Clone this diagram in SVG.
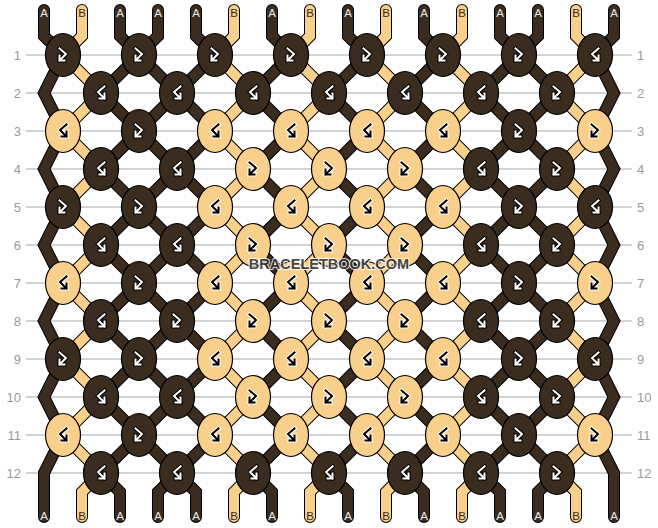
<svg xmlns="http://www.w3.org/2000/svg" xmlns:xlink="http://www.w3.org/1999/xlink" width="658" height="528" viewBox="0 0 658 528">
<style>
.grid line{stroke:#c4c4c4;stroke-width:1.3}
.rowlab{font-family:"Liberation Sans",Arial,sans-serif;font-size:13px;fill:#9a9a9a}
.so{fill:none;stroke:#000;stroke-width:12;stroke-linejoin:miter;stroke-linecap:round}
.sd{fill:none;stroke:#3a2c1f;stroke-width:10;stroke-linejoin:miter;stroke-linecap:round}
.sl{fill:none;stroke:#f9d08b;stroke-width:10;stroke-linejoin:miter;stroke-linecap:round}
ellipse{stroke:#000;stroke-width:1.2}
.d{fill:#3a2c1f}
.l{fill:#f9d08b}
.gk{fill:none;stroke:#000;stroke-width:4;stroke-linecap:square}
.gw{fill:none;stroke:#fff;stroke-width:2;stroke-linecap:square}
.lab{font-family:"Liberation Sans",Arial,sans-serif;font-size:11.5px;text-anchor:middle}
.la{fill:#e6e6e6}
.lb{fill:#3a2c1f}
.wm{font-family:"Liberation Sans",Arial,sans-serif;font-size:14.5px;font-weight:bold;text-anchor:middle;fill:#333;stroke:#fff;stroke-width:2;paint-order:stroke;stroke-linejoin:round;opacity:0.88}
</style>
<defs>
<path id="pfb" d="M-3.5,-6.5 L3,-1 L-3.5,5.5 M-3.5,0.5 L-3.5,5.5 L1.5,5.5"/>
<path id="pbf" d="M3.5,-6.5 L-3,-1 L3.5,5.5 M3.5,0.5 L3.5,5.5 L-1.5,5.5"/>
<g id="fbd"><use href="#pfb" class="gk"/><use href="#pfb" class="gw"/></g>
<g id="bfd"><use href="#pbf" class="gk"/><use href="#pbf" class="gw"/></g>
<g id="fbl"><use href="#pfb" class="gw" style="stroke-width:4"/><use href="#pfb" class="gk" style="stroke-width:2"/></g>
<g id="bfl"><use href="#pbf" class="gw" style="stroke-width:4"/><use href="#pbf" class="gk" style="stroke-width:2"/></g>
<path id="s0" d="M44,10 V36 l19,19 l-19,38 l19,38 l-19,38 l19,38 l-19,38 l19,38 l-19,38 l19,38 l-19,38 l19,38 l-19,38 V517"/>
<path id="s1" d="M82,10 V36 l-19,19 l38,38 l-38,38 l38,38 l-38,38 l38,38 l-38,38 l38,38 l-38,38 l38,38 l-38,38 l38,38 l-19,19 V517"/>
<path id="s2" d="M120,10 V36 l19,19 l-38,38 l38,38 l-38,38 l38,38 l-38,38 l38,38 l-38,38 l38,38 l-38,38 l38,38 l-38,38 l19,19 V517"/>
<path id="s3" d="M158,10 V36 l-19,19 l38,38 l-38,38 l38,38 l-38,38 l38,38 l-38,38 l38,38 l-38,38 l38,38 l-38,38 l38,38 l-19,19 V517"/>
<path id="s4" d="M196,10 V36 l19,19 l-38,38 l38,38 l-38,38 l38,38 l-38,38 l38,38 l-38,38 l38,38 l-38,38 l38,38 l-38,38 l19,19 V517"/>
<path id="s5" d="M234,10 V36 l-19,19 l38,38 l-38,38 l38,38 l-38,38 l38,38 l-38,38 l38,38 l-38,38 l38,38 l-38,38 l38,38 l-19,19 V517"/>
<path id="s6" d="M272,10 V36 l19,19 l-38,38 l38,38 l-38,38 l38,38 l-38,38 l38,38 l-38,38 l38,38 l-38,38 l38,38 l-38,38 l19,19 V517"/>
<path id="s7" d="M310,10 V36 l-19,19 l38,38 l-38,38 l38,38 l-38,38 l38,38 l-38,38 l38,38 l-38,38 l38,38 l-38,38 l38,38 l-19,19 V517"/>
<path id="s8" d="M348,10 V36 l19,19 l-38,38 l38,38 l-38,38 l38,38 l-38,38 l38,38 l-38,38 l38,38 l-38,38 l38,38 l-38,38 l19,19 V517"/>
<path id="s9" d="M386,10 V36 l-19,19 l38,38 l-38,38 l38,38 l-38,38 l38,38 l-38,38 l38,38 l-38,38 l38,38 l-38,38 l38,38 l-19,19 V517"/>
<path id="s10" d="M424,10 V36 l19,19 l-38,38 l38,38 l-38,38 l38,38 l-38,38 l38,38 l-38,38 l38,38 l-38,38 l38,38 l-38,38 l19,19 V517"/>
<path id="s11" d="M462,10 V36 l-19,19 l38,38 l-38,38 l38,38 l-38,38 l38,38 l-38,38 l38,38 l-38,38 l38,38 l-38,38 l38,38 l-19,19 V517"/>
<path id="s12" d="M500,10 V36 l19,19 l-38,38 l38,38 l-38,38 l38,38 l-38,38 l38,38 l-38,38 l38,38 l-38,38 l38,38 l-38,38 l19,19 V517"/>
<path id="s13" d="M538,10 V36 l-19,19 l38,38 l-38,38 l38,38 l-38,38 l38,38 l-38,38 l38,38 l-38,38 l38,38 l-38,38 l38,38 l-19,19 V517"/>
<path id="s14" d="M576,10 V36 l19,19 l-38,38 l38,38 l-38,38 l38,38 l-38,38 l38,38 l-38,38 l38,38 l-38,38 l38,38 l-38,38 l19,19 V517"/>
<path id="s15" d="M614,10 V36 l-19,19 l19,38 l-19,38 l19,38 l-19,38 l19,38 l-19,38 l19,38 l-19,38 l19,38 l-19,38 l19,38 V517"/>
</defs>
<rect width="658" height="528" fill="#fff"/>
<g class="grid">
<line x1="26" y1="55" x2="632" y2="55"/><line x1="26" y1="93" x2="632" y2="93"/><line x1="26" y1="131" x2="632" y2="131"/><line x1="26" y1="169" x2="632" y2="169"/><line x1="26" y1="207" x2="632" y2="207"/><line x1="26" y1="245" x2="632" y2="245"/><line x1="26" y1="283" x2="632" y2="283"/><line x1="26" y1="321" x2="632" y2="321"/><line x1="26" y1="359" x2="632" y2="359"/><line x1="26" y1="397" x2="632" y2="397"/><line x1="26" y1="435" x2="632" y2="435"/><line x1="26" y1="473" x2="632" y2="473"/>
</g>
<g class="rowlab" text-anchor="end">
<text x="21" y="60">1</text><text x="21" y="98">2</text><text x="21" y="136">3</text><text x="21" y="174">4</text><text x="21" y="212">5</text><text x="21" y="250">6</text><text x="21" y="288">7</text><text x="21" y="326">8</text><text x="21" y="364">9</text><text x="21" y="402">10</text><text x="21" y="440">11</text><text x="21" y="478">12</text>
</g>
<g class="rowlab" text-anchor="start">
<text x="637" y="60">1</text><text x="637" y="98">2</text><text x="637" y="136">3</text><text x="637" y="174">4</text><text x="637" y="212">5</text><text x="637" y="250">6</text><text x="637" y="288">7</text><text x="637" y="326">8</text><text x="637" y="364">9</text><text x="637" y="402">10</text><text x="637" y="440">11</text><text x="637" y="478">12</text>
</g>
<g id="connectors">
<use href="#s0" class="so"/><use href="#s0" class="sd"/>
<use href="#s1" class="so"/><use href="#s1" class="sl"/>
<use href="#s2" class="so"/><use href="#s2" class="sd"/>
<use href="#s3" class="so"/><use href="#s3" class="sd"/>
<use href="#s4" class="so"/><use href="#s4" class="sd"/>
<use href="#s5" class="so"/><use href="#s5" class="sl"/>
<use href="#s6" class="so"/><use href="#s6" class="sd"/>
<use href="#s7" class="so"/><use href="#s7" class="sl"/>
<use href="#s8" class="so"/><use href="#s8" class="sd"/>
<use href="#s9" class="so"/><use href="#s9" class="sl"/>
<use href="#s10" class="so"/><use href="#s10" class="sd"/>
<use href="#s11" class="so"/><use href="#s11" class="sl"/>
<use href="#s12" class="so"/><use href="#s12" class="sd"/>
<use href="#s13" class="so"/><use href="#s13" class="sd"/>
<use href="#s14" class="so"/><use href="#s14" class="sl"/>
<use href="#s15" class="so"/><use href="#s15" class="sd"/>
</g>
<g id="knots">
<g id="k1-1"><ellipse cx="63" cy="55" rx="17.5" ry="21.5" class="d"/><use href="#fbd" x="63" y="55"/></g>
<g id="k1-2"><ellipse cx="139" cy="55" rx="17.5" ry="21.5" class="d"/><use href="#fbd" x="139" y="55"/></g>
<g id="k1-3"><ellipse cx="215" cy="55" rx="17.5" ry="21.5" class="d"/><use href="#fbd" x="215" y="55"/></g>
<g id="k1-4"><ellipse cx="291" cy="55" rx="17.5" ry="21.5" class="d"/><use href="#fbd" x="291" y="55"/></g>
<g id="k1-5"><ellipse cx="367" cy="55" rx="17.5" ry="21.5" class="d"/><use href="#fbd" x="367" y="55"/></g>
<g id="k1-6"><ellipse cx="443" cy="55" rx="17.5" ry="21.5" class="d"/><use href="#fbd" x="443" y="55"/></g>
<g id="k1-7"><ellipse cx="519" cy="55" rx="17.5" ry="21.5" class="d"/><use href="#fbd" x="519" y="55"/></g>
<g id="k1-8"><ellipse cx="595" cy="55" rx="17.5" ry="21.5" class="d"/><use href="#bfd" x="595" y="55"/></g>

<g id="k2-1"><ellipse cx="101" cy="93" rx="17.5" ry="21.5" class="d"/><use href="#bfd" x="101" y="93"/></g>
<g id="k2-2"><ellipse cx="177" cy="93" rx="17.5" ry="21.5" class="d"/><use href="#bfd" x="177" y="93"/></g>
<g id="k2-3"><ellipse cx="253" cy="93" rx="17.5" ry="21.5" class="d"/><use href="#bfd" x="253" y="93"/></g>
<g id="k2-4"><ellipse cx="329" cy="93" rx="17.5" ry="21.5" class="d"/><use href="#bfd" x="329" y="93"/></g>
<g id="k2-5"><ellipse cx="405" cy="93" rx="17.5" ry="21.5" class="d"/><use href="#bfd" x="405" y="93"/></g>
<g id="k2-6"><ellipse cx="481" cy="93" rx="17.5" ry="21.5" class="d"/><use href="#bfd" x="481" y="93"/></g>
<g id="k2-7"><ellipse cx="557" cy="93" rx="17.5" ry="21.5" class="d"/><use href="#fbd" x="557" y="93"/></g>

<g id="k3-1"><ellipse cx="63" cy="131" rx="17.5" ry="21.5" class="l"/><use href="#bfl" x="63" y="131"/></g>
<g id="k3-2"><ellipse cx="139" cy="131" rx="17.5" ry="21.5" class="d"/><use href="#fbd" x="139" y="131"/></g>
<g id="k3-3"><ellipse cx="215" cy="131" rx="17.5" ry="21.5" class="l"/><use href="#bfl" x="215" y="131"/></g>
<g id="k3-4"><ellipse cx="291" cy="131" rx="17.5" ry="21.5" class="l"/><use href="#bfl" x="291" y="131"/></g>
<g id="k3-5"><ellipse cx="367" cy="131" rx="17.5" ry="21.5" class="l"/><use href="#bfl" x="367" y="131"/></g>
<g id="k3-6"><ellipse cx="443" cy="131" rx="17.5" ry="21.5" class="l"/><use href="#bfl" x="443" y="131"/></g>
<g id="k3-7"><ellipse cx="519" cy="131" rx="17.5" ry="21.5" class="d"/><use href="#fbd" x="519" y="131"/></g>
<g id="k3-8"><ellipse cx="595" cy="131" rx="17.5" ry="21.5" class="l"/><use href="#fbl" x="595" y="131"/></g>

<g id="k4-1"><ellipse cx="101" cy="169" rx="17.5" ry="21.5" class="d"/><use href="#bfd" x="101" y="169"/></g>
<g id="k4-2"><ellipse cx="177" cy="169" rx="17.5" ry="21.5" class="d"/><use href="#bfd" x="177" y="169"/></g>
<g id="k4-3"><ellipse cx="253" cy="169" rx="17.5" ry="21.5" class="l"/><use href="#fbl" x="253" y="169"/></g>
<g id="k4-4"><ellipse cx="329" cy="169" rx="17.5" ry="21.5" class="l"/><use href="#fbl" x="329" y="169"/></g>
<g id="k4-5"><ellipse cx="405" cy="169" rx="17.5" ry="21.5" class="l"/><use href="#fbl" x="405" y="169"/></g>
<g id="k4-6"><ellipse cx="481" cy="169" rx="17.5" ry="21.5" class="d"/><use href="#bfd" x="481" y="169"/></g>
<g id="k4-7"><ellipse cx="557" cy="169" rx="17.5" ry="21.5" class="d"/><use href="#fbd" x="557" y="169"/></g>

<g id="k5-1"><ellipse cx="63" cy="207" rx="17.5" ry="21.5" class="d"/><use href="#fbd" x="63" y="207"/></g>
<g id="k5-2"><ellipse cx="139" cy="207" rx="17.5" ry="21.5" class="d"/><use href="#fbd" x="139" y="207"/></g>
<g id="k5-3"><ellipse cx="215" cy="207" rx="17.5" ry="21.5" class="l"/><use href="#bfl" x="215" y="207"/></g>
<g id="k5-4"><ellipse cx="291" cy="207" rx="17.5" ry="21.5" class="l"/><use href="#bfl" x="291" y="207"/></g>
<g id="k5-5"><ellipse cx="367" cy="207" rx="17.5" ry="21.5" class="l"/><use href="#bfl" x="367" y="207"/></g>
<g id="k5-6"><ellipse cx="443" cy="207" rx="17.5" ry="21.5" class="l"/><use href="#bfl" x="443" y="207"/></g>
<g id="k5-7"><ellipse cx="519" cy="207" rx="17.5" ry="21.5" class="d"/><use href="#fbd" x="519" y="207"/></g>
<g id="k5-8"><ellipse cx="595" cy="207" rx="17.5" ry="21.5" class="d"/><use href="#bfd" x="595" y="207"/></g>

<g id="k6-1"><ellipse cx="101" cy="245" rx="17.5" ry="21.5" class="d"/><use href="#bfd" x="101" y="245"/></g>
<g id="k6-2"><ellipse cx="177" cy="245" rx="17.5" ry="21.5" class="d"/><use href="#bfd" x="177" y="245"/></g>
<g id="k6-3"><ellipse cx="253" cy="245" rx="17.5" ry="21.5" class="l"/><use href="#fbl" x="253" y="245"/></g>
<g id="k6-4"><ellipse cx="329" cy="245" rx="17.5" ry="21.5" class="l"/><use href="#fbl" x="329" y="245"/></g>
<g id="k6-5"><ellipse cx="405" cy="245" rx="17.5" ry="21.5" class="l"/><use href="#fbl" x="405" y="245"/></g>
<g id="k6-6"><ellipse cx="481" cy="245" rx="17.5" ry="21.5" class="d"/><use href="#bfd" x="481" y="245"/></g>
<g id="k6-7"><ellipse cx="557" cy="245" rx="17.5" ry="21.5" class="d"/><use href="#fbd" x="557" y="245"/></g>

<g id="k7-1"><ellipse cx="63" cy="283" rx="17.5" ry="21.5" class="l"/><use href="#bfl" x="63" y="283"/></g>
<g id="k7-2"><ellipse cx="139" cy="283" rx="17.5" ry="21.5" class="d"/><use href="#fbd" x="139" y="283"/></g>
<g id="k7-3"><ellipse cx="215" cy="283" rx="17.5" ry="21.5" class="l"/><use href="#bfl" x="215" y="283"/></g>
<g id="k7-4"><ellipse cx="291" cy="283" rx="17.5" ry="21.5" class="l"/><use href="#bfl" x="291" y="283"/></g>
<g id="k7-5"><ellipse cx="367" cy="283" rx="17.5" ry="21.5" class="l"/><use href="#bfl" x="367" y="283"/></g>
<g id="k7-6"><ellipse cx="443" cy="283" rx="17.5" ry="21.5" class="l"/><use href="#bfl" x="443" y="283"/></g>
<g id="k7-7"><ellipse cx="519" cy="283" rx="17.5" ry="21.5" class="d"/><use href="#fbd" x="519" y="283"/></g>
<g id="k7-8"><ellipse cx="595" cy="283" rx="17.5" ry="21.5" class="l"/><use href="#fbl" x="595" y="283"/></g>

<g id="k8-1"><ellipse cx="101" cy="321" rx="17.5" ry="21.5" class="d"/><use href="#bfd" x="101" y="321"/></g>
<g id="k8-2"><ellipse cx="177" cy="321" rx="17.5" ry="21.5" class="d"/><use href="#fbd" x="177" y="321"/></g>
<g id="k8-3"><ellipse cx="253" cy="321" rx="17.5" ry="21.5" class="l"/><use href="#fbl" x="253" y="321"/></g>
<g id="k8-4"><ellipse cx="329" cy="321" rx="17.5" ry="21.5" class="l"/><use href="#fbl" x="329" y="321"/></g>
<g id="k8-5"><ellipse cx="405" cy="321" rx="17.5" ry="21.5" class="l"/><use href="#fbl" x="405" y="321"/></g>
<g id="k8-6"><ellipse cx="481" cy="321" rx="17.5" ry="21.5" class="d"/><use href="#bfd" x="481" y="321"/></g>
<g id="k8-7"><ellipse cx="557" cy="321" rx="17.5" ry="21.5" class="d"/><use href="#fbd" x="557" y="321"/></g>

<g id="k9-1"><ellipse cx="63" cy="359" rx="17.5" ry="21.5" class="d"/><use href="#fbd" x="63" y="359"/></g>
<g id="k9-2"><ellipse cx="139" cy="359" rx="17.5" ry="21.5" class="d"/><use href="#fbd" x="139" y="359"/></g>
<g id="k9-3"><ellipse cx="215" cy="359" rx="17.5" ry="21.5" class="l"/><use href="#bfl" x="215" y="359"/></g>
<g id="k9-4"><ellipse cx="291" cy="359" rx="17.5" ry="21.5" class="l"/><use href="#bfl" x="291" y="359"/></g>
<g id="k9-5"><ellipse cx="367" cy="359" rx="17.5" ry="21.5" class="l"/><use href="#bfl" x="367" y="359"/></g>
<g id="k9-6"><ellipse cx="443" cy="359" rx="17.5" ry="21.5" class="l"/><use href="#bfl" x="443" y="359"/></g>
<g id="k9-7"><ellipse cx="519" cy="359" rx="17.5" ry="21.5" class="d"/><use href="#fbd" x="519" y="359"/></g>
<g id="k9-8"><ellipse cx="595" cy="359" rx="17.5" ry="21.5" class="d"/><use href="#bfd" x="595" y="359"/></g>

<g id="k10-1"><ellipse cx="101" cy="397" rx="17.5" ry="21.5" class="d"/><use href="#bfd" x="101" y="397"/></g>
<g id="k10-2"><ellipse cx="177" cy="397" rx="17.5" ry="21.5" class="d"/><use href="#bfd" x="177" y="397"/></g>
<g id="k10-3"><ellipse cx="253" cy="397" rx="17.5" ry="21.5" class="l"/><use href="#fbl" x="253" y="397"/></g>
<g id="k10-4"><ellipse cx="329" cy="397" rx="17.5" ry="21.5" class="l"/><use href="#fbl" x="329" y="397"/></g>
<g id="k10-5"><ellipse cx="405" cy="397" rx="17.5" ry="21.5" class="l"/><use href="#fbl" x="405" y="397"/></g>
<g id="k10-6"><ellipse cx="481" cy="397" rx="17.5" ry="21.5" class="d"/><use href="#bfd" x="481" y="397"/></g>
<g id="k10-7"><ellipse cx="557" cy="397" rx="17.5" ry="21.5" class="d"/><use href="#fbd" x="557" y="397"/></g>

<g id="k11-1"><ellipse cx="63" cy="435" rx="17.5" ry="21.5" class="l"/><use href="#bfl" x="63" y="435"/></g>
<g id="k11-2"><ellipse cx="139" cy="435" rx="17.5" ry="21.5" class="d"/><use href="#fbd" x="139" y="435"/></g>
<g id="k11-3"><ellipse cx="215" cy="435" rx="17.5" ry="21.5" class="l"/><use href="#bfl" x="215" y="435"/></g>
<g id="k11-4"><ellipse cx="291" cy="435" rx="17.5" ry="21.5" class="l"/><use href="#bfl" x="291" y="435"/></g>
<g id="k11-5"><ellipse cx="367" cy="435" rx="17.5" ry="21.5" class="l"/><use href="#bfl" x="367" y="435"/></g>
<g id="k11-6"><ellipse cx="443" cy="435" rx="17.5" ry="21.5" class="l"/><use href="#bfl" x="443" y="435"/></g>
<g id="k11-7"><ellipse cx="519" cy="435" rx="17.5" ry="21.5" class="d"/><use href="#fbd" x="519" y="435"/></g>
<g id="k11-8"><ellipse cx="595" cy="435" rx="17.5" ry="21.5" class="l"/><use href="#fbl" x="595" y="435"/></g>

<g id="k12-1"><ellipse cx="101" cy="473" rx="17.5" ry="21.5" class="d"/><use href="#bfd" x="101" y="473"/></g>
<g id="k12-2"><ellipse cx="177" cy="473" rx="17.5" ry="21.5" class="d"/><use href="#bfd" x="177" y="473"/></g>
<g id="k12-3"><ellipse cx="253" cy="473" rx="17.5" ry="21.5" class="d"/><use href="#bfd" x="253" y="473"/></g>
<g id="k12-4"><ellipse cx="329" cy="473" rx="17.5" ry="21.5" class="d"/><use href="#bfd" x="329" y="473"/></g>
<g id="k12-5"><ellipse cx="405" cy="473" rx="17.5" ry="21.5" class="d"/><use href="#bfd" x="405" y="473"/></g>
<g id="k12-6"><ellipse cx="481" cy="473" rx="17.5" ry="21.5" class="d"/><use href="#bfd" x="481" y="473"/></g>
<g id="k12-7"><ellipse cx="557" cy="473" rx="17.5" ry="21.5" class="d"/><use href="#fbd" x="557" y="473"/></g>
</g>
<g id="strand-labels" class="lab">
<text x="44" y="17" class="la">A</text><text x="82" y="17" class="lb">B</text><text x="120" y="17" class="la">A</text><text x="158" y="17" class="la">A</text><text x="196" y="17" class="la">A</text><text x="234" y="17" class="lb">B</text><text x="272" y="17" class="la">A</text><text x="310" y="17" class="lb">B</text><text x="348" y="17" class="la">A</text><text x="386" y="17" class="lb">B</text><text x="424" y="17" class="la">A</text><text x="462" y="17" class="lb">B</text><text x="500" y="17" class="la">A</text><text x="538" y="17" class="la">A</text><text x="576" y="17" class="lb">B</text><text x="614" y="17" class="la">A</text>
<text x="44" y="520" class="la">A</text><text x="82" y="520" class="lb">B</text><text x="120" y="520" class="la">A</text><text x="158" y="520" class="la">A</text><text x="196" y="520" class="la">A</text><text x="234" y="520" class="lb">B</text><text x="272" y="520" class="la">A</text><text x="310" y="520" class="lb">B</text><text x="348" y="520" class="la">A</text><text x="386" y="520" class="lb">B</text><text x="424" y="520" class="la">A</text><text x="462" y="520" class="lb">B</text><text x="500" y="520" class="la">A</text><text x="538" y="520" class="la">A</text><text x="576" y="520" class="lb">B</text><text x="614" y="520" class="la">A</text>
</g>
<text x="329" y="268.5" class="wm">BRACELETBOOK.COM</text>
</svg>
